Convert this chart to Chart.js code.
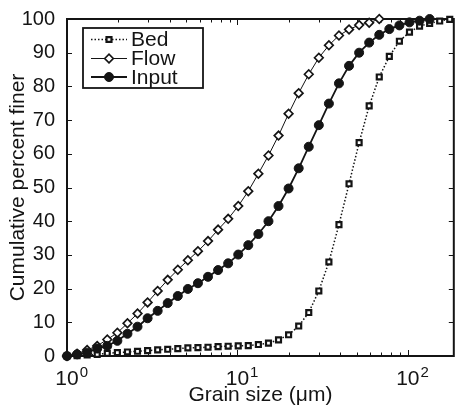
<!DOCTYPE html>
<html>
<head>
<meta charset="utf-8">
<script src="https://cdn.jsdelivr.net/npm/chart.js@4.4.1/dist/chart.umd.min.js"></script>
<style>
  html, body { margin: 0; padding: 0; background: #fff; }
  #wrap { width: 460px; height: 408px; }
</style>
</head>
<body>
<div id="wrap"><canvas id="chart" width="460" height="408"></canvas></div>
<script>
// grain size classes (um)
const sizes = [1.00, 1.146, 1.313, 1.504, 1.723, 1.975, 2.263, 2.593, 2.971, 3.404,
  3.899, 4.468, 5.119, 5.865, 6.720, 7.700, 8.823, 10.11, 11.58, 13.27,
  15.21, 17.42, 19.96, 22.88, 26.21, 30.03, 34.41, 39.42, 45.17, 51.76,
  59.29, 67.94, 77.84, 89.19, 102.2, 117.1, 134.2, 153.7, 176.1];

// cumulative percent finer
const bed = [0, 0.1, 0.3, 0.5, 0.8, 1.0, 1.2, 1.4, 1.6, 1.8,
  2.0, 2.2, 2.4, 2.5, 2.6, 2.8, 2.9, 3.0, 3.1, 3.4,
  3.8, 4.8, 6.3, 8.9, 12.9, 19.3, 27.9, 39.0, 51.1, 63.3,
  74.2, 82.8, 88.9, 93.4, 96.1, 97.9, 98.7, 99.4, 99.9];
const flow = [0, 0.7, 1.8, 3.0, 4.9, 6.9, 9.7, 12.6, 15.9, 19.3,
  22.6, 25.6, 28.4, 31.1, 34.1, 37.5, 40.7, 44.5, 48.9, 54.1,
  59.5, 65.4, 71.9, 78.0, 83.6, 88.5, 92.2, 95.1, 96.9, 98.2,
  98.9, 100];
const input = [0, 0.5, 1.0, 2.2, 3.0, 4.5, 6.6, 8.7, 11.2, 13.4,
  15.7, 17.8, 19.9, 21.6, 23.5, 25.5, 27.5, 30.1, 32.9, 36.2,
  40.0, 44.5, 49.7, 55.7, 62.1, 68.5, 74.9, 80.9, 86.1, 90.0,
  93.0, 95.3, 97.0, 98.1, 99.0, 99.5, 100];

const seriesNames = ["Bed", "Flow", "Input"];
const xDecades = [0, 1, 2];

const FONT = '"Liberation Sans", Arial, Helvetica, sans-serif';
const INK = "#141414";

function toPoints(vals) {
  return vals.map((v, i) => ({ x: sizes[i], y: v }));
}

// box, inward ticks and 10^n labels, MATLAB style
const framePlugin = {
  id: "frame",
  beforeDatasetsDraw(chart) {
    const ctx = chart.ctx;
    const a = chart.chartArea;
    const xs = chart.scales.x, ys = chart.scales.y;
    ctx.save();
    ctx.strokeStyle = INK;
    ctx.lineWidth = 1;
    xs.ticks.forEach(t => {
      const e = Math.floor(Math.log10(t.value) + 1e-9);
      const sig = t.value / Math.pow(10, e);
      if (Math.abs(sig - Math.round(sig)) > 1e-6) return;
      const px = Math.round(xs.getPixelForValue(t.value)) + 0.5;
      const len = Math.round(sig) === 1 ? 6 : 3.5;
      ctx.beginPath();
      ctx.moveTo(px, a.bottom); ctx.lineTo(px, a.bottom - len);
      ctx.moveTo(px, a.top); ctx.lineTo(px, a.top + len);
      ctx.stroke();
    });
    ys.ticks.forEach(t => {
      const py = Math.round(ys.getPixelForValue(t.value)) + 0.5;
      ctx.beginPath();
      ctx.moveTo(a.left, py); ctx.lineTo(a.left + 5, py);
      ctx.moveTo(a.right, py); ctx.lineTo(a.right - 5, py);
      ctx.stroke();
    });
    ctx.lineWidth = 2;
    ctx.strokeRect(a.left, a.top, a.right - a.left, a.bottom - a.top);

    // x tick labels as 10 with raised exponent
    ctx.fillStyle = INK;
    ctx.textBaseline = "alphabetic";
    xDecades.forEach(e => {
      const px = xs.getPixelForValue(Math.pow(10, e));
      ctx.font = "21px " + FONT;
      const w = ctx.measureText("10").width;
      ctx.textAlign = "center";
      ctx.fillText("10", px, a.bottom + 29);
      ctx.font = "15px " + FONT;
      ctx.textAlign = "left";
      ctx.fillText(String(e), px + w / 2 + 1, a.bottom + 21);
    });
    ctx.restore();
  },
  afterDraw(chart) {
    const ctx = chart.ctx;
    const box = { x: 83, y: 28, w: 120, h: 60 };
    ctx.save();
    ctx.fillStyle = "#fff";
    ctx.fillRect(box.x, box.y, box.w, box.h);
    ctx.strokeStyle = INK;
    ctx.lineWidth = 1.8;
    ctx.strokeRect(box.x, box.y, box.w, box.h);
    const rows = [39.5, 58.5, 77];
    seriesNames.forEach((name, i) => {
      const ds = chart.data.datasets.find(d => d.label === name);
      const y = rows[i];
      ctx.strokeStyle = INK;
      ctx.lineWidth = ds.borderWidth;
      ctx.setLineDash(ds.borderDash || []);
      ctx.beginPath();
      ctx.moveTo(91, y); ctx.lineTo(127, y);
      ctx.stroke();
      ctx.setLineDash([]);
      ctx.fillStyle = ds.pointBackgroundColor;
      ctx.lineWidth = ds.pointBorderWidth;
      Chart.helpers.drawPoint(ctx, {
        pointStyle: ds.pointStyle, radius: ds.pointRadius, borderWidth: ds.pointBorderWidth, rotation: 0
      }, 109, y);
      ctx.fillStyle = INK;
      ctx.font = "21px " + FONT;
      ctx.textAlign = "left";
      ctx.textBaseline = "middle";
      ctx.fillText(name, 131, y + 1);
    });
    ctx.restore();
  }
};

new Chart(document.getElementById("chart").getContext("2d"), {
  type: "line",
  data: {
    datasets: [
      {
        label: "Input", data: toPoints(input), order: 1,
        borderColor: INK, borderWidth: 1.8,
        pointStyle: "circle", pointRadius: 4.5, pointBorderWidth: 1,
        pointBackgroundColor: INK, pointBorderColor: INK
      },
      {
        label: "Flow", data: toPoints(flow), order: 2,
        borderColor: INK, borderWidth: 1,
        pointStyle: "rectRot", pointRadius: 4.3, pointBorderWidth: 1.7,
        pointBackgroundColor: "#fff", pointBorderColor: INK
      },
      {
        label: "Bed", data: toPoints(bed), order: 3,
        borderColor: INK, borderWidth: 1.5, borderDash: [1.5, 2],
        pointStyle: "rect", pointRadius: 3.5, pointBorderWidth: 2.2,
        pointBackgroundColor: "#fff", pointBorderColor: INK
      }
    ]
  },
  options: {
    responsive: false,
    animation: false,
    devicePixelRatio: 1,
    clip: false,
    layout: { padding: { top: 19, right: 6, left: 0, bottom: 0 } },
    elements: { line: { tension: 0, fill: false } },
    plugins: { legend: { display: false }, tooltip: { enabled: false } },
    scales: {
      x: {
        type: "logarithmic", min: 1, max: 186,
        grid: { display: false }, border: { display: false },
        ticks: { display: false },
        title: { display: true, text: "Grain size (μm)", color: INK, padding: 0,
          font: { family: FONT, size: 21 } },
        afterFit(s) { s.height = 52; }
      },
      y: {
        min: 0, max: 100,
        grid: { display: false }, border: { display: false },
        ticks: { stepSize: 10, color: INK, padding: 4, font: { family: FONT, size: 20 } },
        title: { display: true, text: "Cumulative percent finer", color: INK,
          padding: { top: 6, bottom: 0 }, font: { family: FONT, size: 21 } },
        afterFit(s) { s.width = 67; }
      }
    }
  },
  plugins: [framePlugin]
});
</script>
</body>
</html>
